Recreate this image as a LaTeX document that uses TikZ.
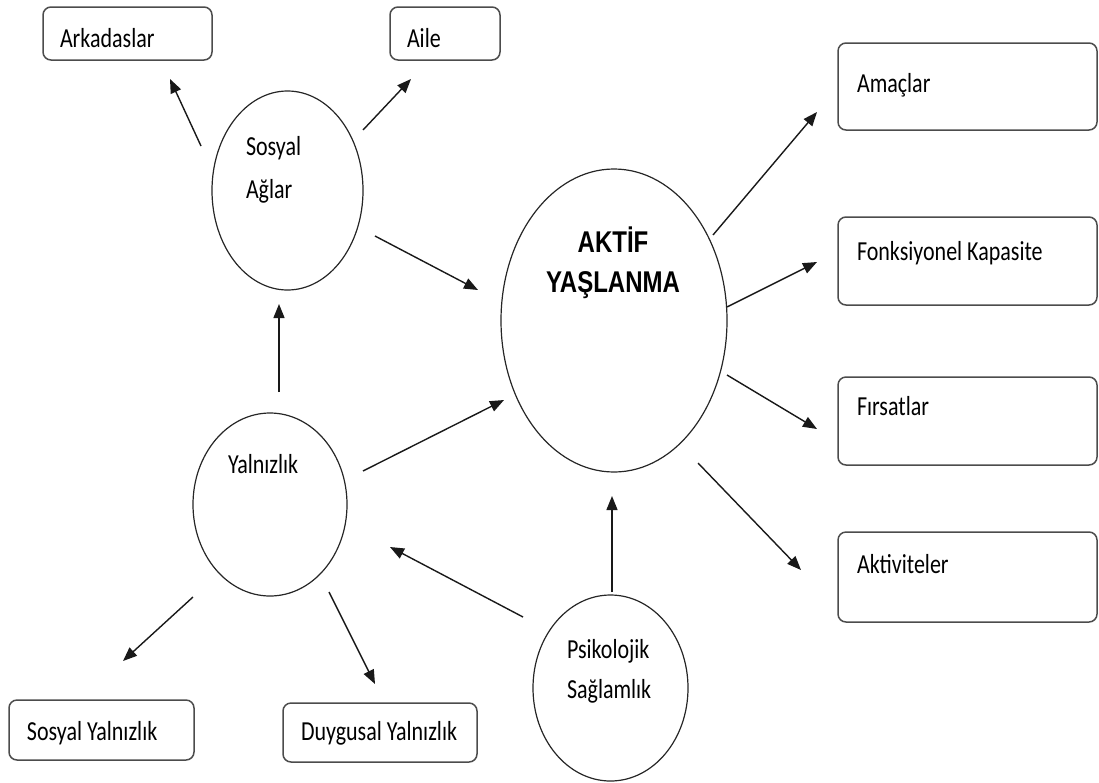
\documentclass[tikz,border=0pt]{standalone}
\usepackage{fontspec}
\setmainfont{Carlito}
\newfontfamily\headfont{Liberation Sans}
\usetikzlibrary{arrows.meta,shapes.geometric}
% text is set slightly taller than wide
\newcommand{\tall}[1]{\scalebox{1}[1.25]{#1}}
\begin{document}
\begin{tikzpicture}[x=1pt,y=-1pt,
  every node/.style={inner sep=0pt,outer sep=0pt},
  bubble/.style={ellipse,draw=black!85,line width=1.2pt},
  card/.style={rectangle,rounded corners=8pt,draw=black!70,line width=1.5pt},
  lbl/.style={anchor=base west,font=\fontsize{22}{26}\selectfont},
  link/.style={draw=black!90,line width=1.4pt,-{Triangle[length=14pt,width=11pt]}}]
\useasboundingbox (0,0) rectangle (1099,782);

% ---------- cards ----------
\node[card,minimum width=169pt,minimum height=53pt] (ark) at (127.5,33.5) {};
\node[card,minimum width=110pt,minimum height=53pt] (aile) at (445,33.5) {};
\node[card,minimum width=259pt,minimum height=87pt] (amac) at (967.5,86.5) {};
\node[card,minimum width=259pt,minimum height=88pt] (fonk) at (967.5,261) {};
\node[card,minimum width=259pt,minimum height=88pt] (firs) at (967.5,421) {};
\node[card,minimum width=259pt,minimum height=90pt] (akti) at (967.5,577) {};
\node[card,minimum width=185pt,minimum height=60pt] (syal) at (101.5,730) {};
\node[card,minimum width=194pt,minimum height=59pt] (dyal) at (380,732.5) {};

\node[lbl] (ark-t)  at (60,47)   {\tall{Arkadaslar}};
\node[lbl] (aile-t) at (407,47)  {\tall{Aile}};
\node[lbl] (amac-t) at (857,92)  {\tall{Amaçlar}};
\node[lbl] (fonk-t) at (857,260) {\tall{Fonksiyonel Kapasite}};
\node[lbl] (firs-t) at (857,415) {\tall{Fırsatlar}};
\node[lbl] (akti-t) at (857,573) {\tall{Aktiviteler}};
\node[lbl] (syal-t) at (27,740)  {\tall{Sosyal Yalnızlık}};
\node[lbl] (dyal-t) at (301,740) {\tall{Duygusal Yalnızlık}};

% ---------- bubbles ----------
\node[bubble,minimum width=151pt,minimum height=199pt] (sag) at (287.5,190.5) {};
\node[bubble,minimum width=226pt,minimum height=303pt] (ay)  at (614,320.5) {};
\node[bubble,minimum width=154pt,minimum height=183pt] (yal) at (270,504.5) {};
\node[bubble,minimum width=155pt,minimum height=186pt] (psi) at (610.5,688) {};

\node[lbl] (sag-t1) at (246,155) {\tall{Sosyal}};
\node[lbl] (sag-t2) at (246,198) {\tall{Ağlar}};
\node[lbl] (yal-t)  at (228,473) {\tall{Yalnızlık}};
\node[lbl] (psi-t1) at (567,658) {\tall{Psikolojik}};
\node[lbl] (psi-t2) at (567,698) {\tall{Sağlamlık}};
\node[anchor=base,font=\headfont\bfseries\fontsize{24}{28}\selectfont] (ay-t1) at (613,252) {\tall{AKTİF}};
\node[anchor=base,font=\headfont\bfseries\fontsize{24}{28}\selectfont] (ay-t2) at (613,292) {\tall{YAŞLANMA}};

% ---------- arrow ends ----------
\coordinate (sag-ark-s) at (201,146);  \coordinate (sag-ark-e) at (170,79);
\coordinate (sag-aile-s) at (363,130); \coordinate (sag-aile-e) at (411,79);
\coordinate (sag-ay-s) at (375,236);   \coordinate (sag-ay-e) at (478,290);
\coordinate (yal-sag-s) at (279,392);  \coordinate (yal-sag-e) at (279,304);
\coordinate (yal-ay-s) at (363,471);   \coordinate (yal-ay-e) at (504,400);
\coordinate (psi-yal-s) at (523,617);  \coordinate (psi-yal-e) at (390,547);
\coordinate (psi-ay-s) at (612,592);   \coordinate (psi-ay-e) at (612,496);
\coordinate (ay-amac-s) at (713,235);  \coordinate (ay-amac-e) at (817,112);
\coordinate (ay-fonk-s) at (727,307);  \coordinate (ay-fonk-e) at (817,262);
\coordinate (ay-firs-s) at (727,375);  \coordinate (ay-firs-e) at (817,429);
\coordinate (ay-akti-s) at (698,463);  \coordinate (ay-akti-e) at (801,570);
\coordinate (yal-syal-s) at (193,597); \coordinate (yal-syal-e) at (123,661);
\coordinate (yal-dyal-s) at (329,592); \coordinate (yal-dyal-e) at (375,684);

% ---------- connectors ----------
\draw[link] (sag-ark-s) -- (sag-ark-e);
\draw[link] (sag-aile-s) -- (sag-aile-e);
\draw[link] (sag-ay-s) -- (sag-ay-e);
\draw[link] (yal-sag-s) -- (yal-sag-e);
\draw[link] (yal-ay-s) -- (yal-ay-e);
\draw[link] (psi-yal-s) -- (psi-yal-e);
\draw[link] (psi-ay-s) -- (psi-ay-e);
\draw[link] (ay-amac-s) -- (ay-amac-e);
\draw[link] (ay-fonk-s) -- (ay-fonk-e);
\draw[link] (ay-firs-s) -- (ay-firs-e);
\draw[link] (ay-akti-s) -- (ay-akti-e);
\draw[link] (yal-syal-s) -- (yal-syal-e);
\draw[link] (yal-dyal-s) -- (yal-dyal-e);
\end{tikzpicture}
\end{document}
